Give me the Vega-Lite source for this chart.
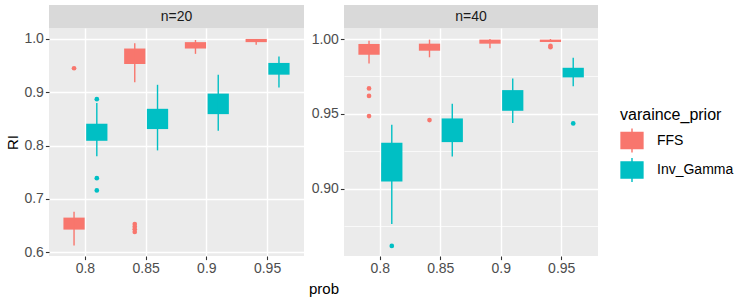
{
  "$schema": "https://vega.github.io/schema/vega-lite/v6.json",
  "background": "white",
  "padding": {"left": 5, "top": 5, "right": 5, "bottom": 2},
  "datasets": {
    "boxes": [
      {"n": 20, "prob": "0.8", "prior": "FFS", "lo": 0.6125, "q1": 0.6425, "q3": 0.665, "hi": 0.676},
      {"n": 20, "prob": "0.85", "prior": "FFS", "lo": 0.919, "q1": 0.953, "q3": 0.982, "hi": 0.992},
      {"n": 20, "prob": "0.9", "prior": "FFS", "lo": 0.972, "q1": 0.982, "q3": 0.994, "hi": 0.998},
      {"n": 20, "prob": "0.95", "prior": "FFS", "lo": 0.989, "q1": 0.994, "q3": 1.0, "hi": 1.0},
      {"n": 20, "prob": "0.8", "prior": "Inv_Gamma", "lo": 0.78, "q1": 0.809, "q3": 0.841, "hi": 0.88},
      {"n": 20, "prob": "0.85", "prior": "Inv_Gamma", "lo": 0.791, "q1": 0.831, "q3": 0.869, "hi": 0.914},
      {"n": 20, "prob": "0.9", "prior": "Inv_Gamma", "lo": 0.828, "q1": 0.859, "q3": 0.8975, "hi": 0.933},
      {"n": 20, "prob": "0.95", "prior": "Inv_Gamma", "lo": 0.909, "q1": 0.933, "q3": 0.955, "hi": 0.967},
      {"n": 40, "prob": "0.8", "prior": "FFS", "lo": 0.9837, "q1": 0.9895, "q3": 0.9967, "hi": 0.9989},
      {"n": 40, "prob": "0.85", "prior": "FFS", "lo": 0.9878, "q1": 0.9922, "q3": 0.9969, "hi": 0.9996},
      {"n": 40, "prob": "0.9", "prior": "FFS", "lo": 0.9938, "q1": 0.9969, "q3": 0.9996, "hi": 1.0},
      {"n": 40, "prob": "0.95", "prior": "FFS", "lo": 0.998, "q1": 0.998, "q3": 0.9996, "hi": 1.0},
      {"n": 40, "prob": "0.8", "prior": "Inv_Gamma", "lo": 0.8766, "q1": 0.9049, "q3": 0.9307, "hi": 0.9428},
      {"n": 40, "prob": "0.85", "prior": "Inv_Gamma", "lo": 0.9216, "q1": 0.9312, "q3": 0.947, "hi": 0.9568},
      {"n": 40, "prob": "0.9", "prior": "Inv_Gamma", "lo": 0.9439, "q1": 0.9521, "q3": 0.9659, "hi": 0.9737},
      {"n": 40, "prob": "0.95", "prior": "Inv_Gamma", "lo": 0.9684, "q1": 0.9744, "q3": 0.9808, "hi": 0.9875}
    ],
    "outliers": [
      {"n": 20, "prob": "0.8", "prior": "FFS", "RI": 0.945},
      {"n": 20, "prob": "0.85", "prior": "FFS", "RI": 0.653},
      {"n": 20, "prob": "0.85", "prior": "FFS", "RI": 0.648},
      {"n": 20, "prob": "0.85", "prior": "FFS", "RI": 0.643},
      {"n": 20, "prob": "0.85", "prior": "FFS", "RI": 0.638},
      {"n": 20, "prob": "0.8", "prior": "Inv_Gamma", "RI": 0.887},
      {"n": 20, "prob": "0.8", "prior": "Inv_Gamma", "RI": 0.739},
      {"n": 20, "prob": "0.8", "prior": "Inv_Gamma", "RI": 0.716},
      {"n": 40, "prob": "0.8", "prior": "FFS", "RI": 0.967},
      {"n": 40, "prob": "0.8", "prior": "FFS", "RI": 0.962},
      {"n": 40, "prob": "0.8", "prior": "FFS", "RI": 0.9486},
      {"n": 40, "prob": "0.85", "prior": "FFS", "RI": 0.9459},
      {"n": 40, "prob": "0.95", "prior": "FFS", "RI": 0.9955},
      {"n": 40, "prob": "0.95", "prior": "FFS", "RI": 0.9945},
      {"n": 40, "prob": "0.8", "prior": "Inv_Gamma", "RI": 0.8619},
      {"n": 40, "prob": "0.95", "prior": "Inv_Gamma", "RI": 0.9437}
    ]
  },
  "config": {
    "font": "Liberation Sans",
    "view": {"stroke": null},
    "axis": {
      "labelFont": "Liberation Sans",
      "labelFontSize": 14,
      "labelColor": "#4D4D4D",
      "tickColor": "#333333",
      "tickSize": 3.6,
      "tickWidth": 1.1,
      "domain": false,
      "gridColor": "#FFFFFF",
      "titleFont": "Liberation Sans",
      "titleFontSize": 15,
      "titleFontWeight": "normal",
      "titleColor": "#000000",
      "labelPadding": 2
    },
    "legend": {
      "orient": "none",
      "legendX": 571,
      "legendY": 102,
      "titleFont": "Liberation Sans",
      "titleFontSize": 16,
      "titleFontWeight": "normal",
      "titleColor": "#000000",
      "titlePadding": 5.5,
      "labelFont": "Liberation Sans",
      "labelFontSize": 14,
      "labelColor": "#000000",
      "labelOffset": 13,
      "symbolType": "M-0.97,-0.73H0.97V0.73H-0.97Z M-0.06,-1H0.06V-0.73H-0.06Z M-0.06,0.73H0.06V1H-0.06Z",
      "symbolSize": 576,
      "symbolStrokeWidth": 0,
      "symbolOpacity": 1,
      "rowPadding": 5.4
    }
  },
  "resolve": {"legend": {"color": "shared"}, "scale": {"color": "shared"}},
  "spacing": 4,
  "hconcat": [
    {
      "spacing": 0,
      "bounds": "flush",
      "vconcat": [
        {
          "width": 255,
          "height": 23,
          "view": {"fill": "#D9D9D9", "stroke": null},
          "data": {"values": [{"lab": "n=20"}]},
          "mark": {"type": "text", "fontSize": 14, "color": "#1A1A1A", "font": "Liberation Sans"},
          "encoding": {"text": {"field": "lab", "type": "nominal"}}
        },
        {
          "width": 255,
          "height": 228,
          "view": {"fill": "#EBEBEB", "stroke": null},
          "encoding": {
            "x": {
              "field": "prob", "type": "nominal",
              "sort": ["0.8", "0.85", "0.9", "0.95"],
              "scale": {"domain": ["0.8", "0.85", "0.9", "0.95"], "paddingInner": 0, "paddingOuter": 0.1},
              "axis": {"title": null, "labelAngle": 0, "grid": true, "gridWidth": 1.4, "bandPosition": 0.5}
            },
            "xOffset": {
              "field": "prior", "type": "nominal",
              "scale": {"domain": ["FFS", "Inv_Gamma"], "paddingInner": 0.0667, "paddingOuter": 0.3667}
            },
            "color": {
              "field": "prior", "type": "nominal", "title": "varaince_prior",
              "scale": {"domain": ["FFS", "Inv_Gamma"], "range": ["#F8766D", "#00BFC4"]}
            }
          },
          "layer": [
            {
              "data": {"name": "boxes"},
              "transform": [{"filter": "datum.n == 20"}],
              "mark": {"type": "bar", "opacity": 1},
              "encoding": {
                "y": {
                  "field": "q1", "type": "quantitative", "title": "RI",
                  "scale": {"domain": [0.593, 1.0205], "zero": false, "nice": false},
                  "axis": {
                    "title": "RI",
                    "titlePadding": 3,
                    "values": [0.6, 0.65, 0.7, 0.75, 0.8, 0.85, 0.9, 0.95, 1.0],
                    "labelExpr": "abs(datum.value*10 - round(datum.value*10)) < 0.001 ? format(datum.value, '.1f') : ''",
                    "grid": true,
                    "gridWidth": {"condition": {"test": "abs(datum.value*10 - round(datum.value*10)) < 0.001", "value": 1.4}, "value": 0.7},
                    "tickOpacity": {"condition": {"test": "abs(datum.value*10 - round(datum.value*10)) < 0.001", "value": 1}, "value": 0}
                  }
                },
                "y2": {"field": "q3"}
              }
            },
            {
              "data": {"name": "boxes"},
              "transform": [{"filter": "datum.n == 20"}],
              "mark": {"type": "rule", "strokeWidth": 1.4},
              "encoding": {
                "y": {"field": "lo", "type": "quantitative", "title": "RI"},
                "y2": {"field": "hi"}
              }
            },
            {
              "data": {"name": "outliers"},
              "transform": [{"filter": "datum.n == 20"}],
              "mark": {"type": "circle", "size": 22, "opacity": 1},
              "encoding": {
                "y": {"field": "RI", "type": "quantitative", "title": "RI"}
              }
            }
          ]
        }
      ]
    },
    {
      "spacing": 0,
      "bounds": "flush",
      "vconcat": [
        {
          "width": 254,
          "height": 23,
          "view": {"fill": "#D9D9D9", "stroke": null},
          "data": {"values": [{"lab": "n=40"}]},
          "mark": {"type": "text", "fontSize": 14, "color": "#1A1A1A", "font": "Liberation Sans"},
          "encoding": {"text": {"field": "lab", "type": "nominal"}}
        },
        {
          "width": 254,
          "height": 228,
          "view": {"fill": "#EBEBEB", "stroke": null},
          "encoding": {
            "x": {
              "field": "prob", "type": "nominal",
              "sort": ["0.8", "0.85", "0.9", "0.95"],
              "scale": {"domain": ["0.8", "0.85", "0.9", "0.95"], "paddingInner": 0, "paddingOuter": 0.1},
              "axis": {"title": "prob", "titleX": -20.5, "titleAlign": "center", "titlePadding": 6, "labelAngle": 0, "grid": true, "gridWidth": 1.4, "bandPosition": 0.5}
            },
            "xOffset": {
              "field": "prior", "type": "nominal",
              "scale": {"domain": ["FFS", "Inv_Gamma"], "paddingInner": 0.0667, "paddingOuter": 0.3667}
            },
            "color": {
              "field": "prior", "type": "nominal", "title": "varaince_prior",
              "scale": {"domain": ["FFS", "Inv_Gamma"], "range": ["#F8766D", "#00BFC4"]}
            }
          },
          "layer": [
            {
              "data": {"name": "boxes"},
              "transform": [{"filter": "datum.n == 40"}],
              "mark": {"type": "bar", "opacity": 1},
              "encoding": {
                "y": {
                  "field": "q1", "type": "quantitative", "title": null,
                  "scale": {"domain": [0.8552, 1.00735], "zero": false, "nice": false},
                  "axis": {
                    "title": null,
                    "values": [0.875, 0.9, 0.925, 0.95, 0.975, 1.0],
                    "labelExpr": "abs(datum.value*20 - round(datum.value*20)) < 0.001 ? format(datum.value, '.2f') : ''",
                    "grid": true,
                    "gridWidth": {"condition": {"test": "abs(datum.value*20 - round(datum.value*20)) < 0.001", "value": 1.4}, "value": 0.7},
                    "tickOpacity": {"condition": {"test": "abs(datum.value*20 - round(datum.value*20)) < 0.001", "value": 1}, "value": 0}
                  }
                },
                "y2": {"field": "q3"}
              }
            },
            {
              "data": {"name": "boxes"},
              "transform": [{"filter": "datum.n == 40"}],
              "mark": {"type": "rule", "strokeWidth": 1.4},
              "encoding": {
                "y": {"field": "lo", "type": "quantitative", "title": null},
                "y2": {"field": "hi"}
              }
            },
            {
              "data": {"name": "outliers"},
              "transform": [{"filter": "datum.n == 40"}],
              "mark": {"type": "circle", "size": 22, "opacity": 1},
              "encoding": {
                "y": {"field": "RI", "type": "quantitative", "title": null}
              }
            }
          ]
        }
      ]
    }
  ]
}
